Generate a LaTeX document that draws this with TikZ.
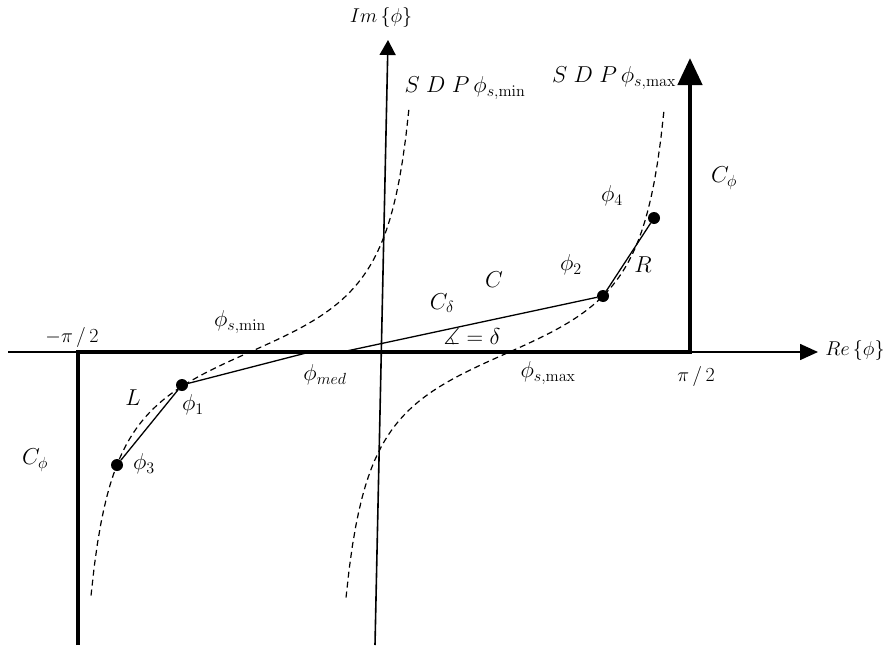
\documentclass[tikz,border=0pt]{standalone}
\usepackage{fix-cm}
\usepackage{amsmath,amssymb}
\usetikzlibrary{arrows.meta}

\begin{document}
\begin{tikzpicture}[x=1pt,y=-1pt,
  lbl/.style={font=\fontsize{23}{27}\selectfont,inner sep=0pt},
  sml/.style={font=\fontsize{20}{24}\selectfont,inner sep=0pt},
  axisline/.style={line width=1.6pt},
  contour/.style={line width=4.5pt,line join=miter},
  sdp/.style={line width=1.2pt,dash pattern=on 6pt off 4pt},
  seg/.style={line width=1.3pt},
  dot/.style={circle,fill,inner sep=0pt,minimum size=12pt}]
  \useasboundingbox (0,0) rectangle (889,653);
  % axes
  \coordinate (re0) at (8,352);
  \coordinate (re1) at (818,352);
  \coordinate (im0) at (375,645);
  \coordinate (im1) at (388,40);
  \draw[axisline,-{Triangle[length=18pt,width=16pt]}] (re0) -- (re1);
  \draw[axisline,-{Triangle[length=15pt,width=16pt]}] (im0) -- (im1);
  % contour C_phi
  \coordinate (cl) at (78,645);
  \coordinate (ca) at (78,352);
  \coordinate (cb) at (690,352);
  \coordinate (ct) at (690,58);
  \draw[contour,-{Triangle[length=27pt,width=24pt]}] (cl) -- (ca) -- (cb) -- (ct);
  % steepest descent paths
  \foreach \cx/\cy in {250/352,505/354}
    \draw[sdp] plot[domain=-77.9:77.9,samples=100] ({\cx+2.0408*\x},{\cy-52.2*tan(\x)});
  % deformed path
  \node[dot] (p1) at (182,385) {};
  \node[dot] (p2) at (603,296) {};
  \node[dot] (p3) at (117,465) {};
  \node[dot] (p4) at (654,218) {};
  \coordinate (med) at (310,352);
  \coordinate (cst) at (342,352);
  \draw[seg] (p3) -- (p1) -- (med);
  \draw[seg] (cst) -- (p2) -- (p4);
  % labels
  \node[sml] (imlbl) at (381,18) {$Im\,\{\phi\}$};
  \node[sml] (relbl) at (855,350) {$Re\,\{\phi\}$};
  \node[sml] (mpi) at (72,337) {$-\pi\,/\,2$};
  \node[sml] (ppi) at (696,376) {$\pi\,/\,2$};
  \node[lbl] (sdpmin) at (465,88) {$S\;D\;P\,\phi_{s,\min}$};
  \node[lbl] (sdpmax) at (614,78) {$S\;D\;P\,\phi_{s,\max}$};
  \node[lbl] (cphil) at (35,460) {$C_\phi$};
  \node[lbl] (cphir) at (724,178) {$C_\phi$};
  \node[lbl] (smin) at (240,322) {$\phi_{s,\min}$};
  \node[lbl] (smax) at (548,373) {$\phi_{s,\max}$};
  \node[lbl] (medlbl) at (325,375) {$\phi_{med}$};
  \node[lbl] (cdel) at (442,303) {$C_\delta$};
  \node[lbl] (clbl) at (494,280) {$C$};
  \node[lbl] (ang) at (472,337) {$\measuredangle=\delta$};
  \node[lbl] (l1) at (193,405) {$\phi_1$};
  \node[lbl] (l2) at (571,265) {$\phi_2$};
  \node[lbl] (l3) at (144,464) {$\phi_3$};
  \node[lbl] (l4) at (612,196) {$\phi_4$};
  \node[lbl] (rlbl) at (643,265) {$R$};
  \node[lbl] (llbl) at (133,398) {$L$};
\end{tikzpicture}
\end{document}
